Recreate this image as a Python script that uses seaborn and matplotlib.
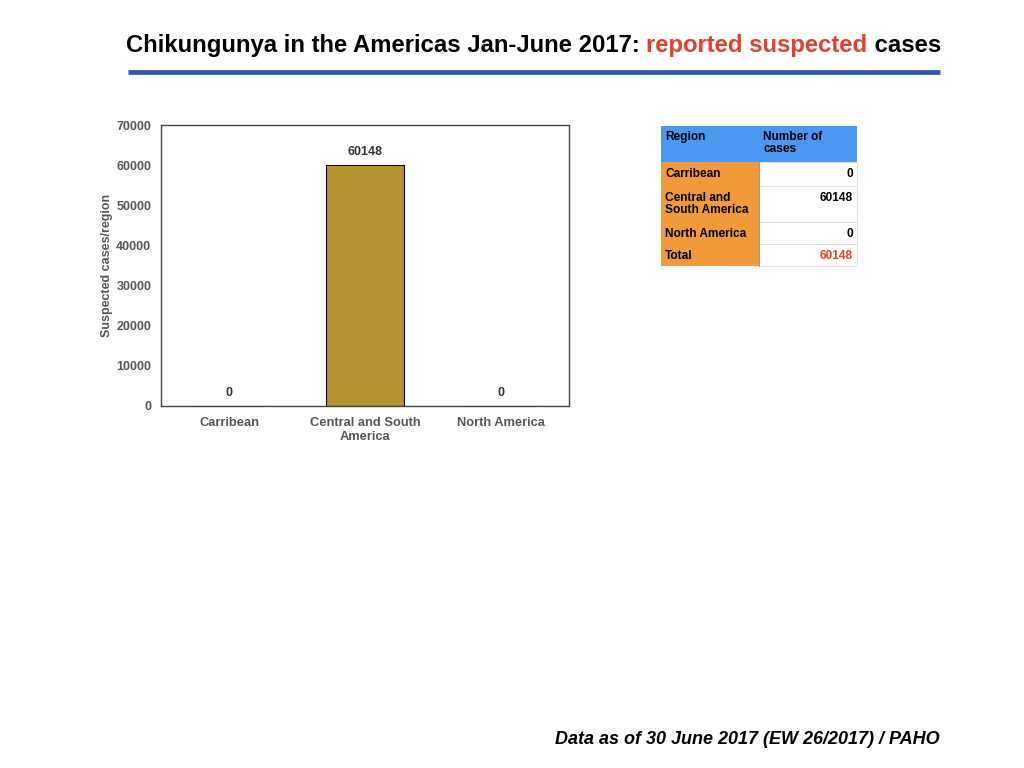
import matplotlib
matplotlib.use("Agg")
import matplotlib.pyplot as plt
import seaborn as sns
import pandas as pd
from matplotlib.patches import Rectangle

# data
regions = ["Carribean", "Central and South America", "North America"]
region_labels = ["Carribean", "Central and South\nAmerica", "North America"]
cases = [0, 60148, 0]
table_regions = ["Carribean", "Central and\nSouth America", "North America", "Total"]
table_values = ["0", "60148", "0", "60148"]

df = pd.DataFrame({"Region": regions, "Cases": cases})

sns.set_theme(style="white")
plt.rcParams["font.family"] = ["Liberation Sans", "DejaVu Sans"]
plt.rcParams["font.weight"] = "bold"

fig = plt.figure(figsize=(10.24, 7.68), dpi=100)

# title, drawn in three pieces so the middle part can be red
title_parts = [("Chikungunya in the Americas Jan-June 2017: ", "black"),
               ("reported suspected", "#e0412b"),
               (" cases", "black")]
renderer = fig.canvas.get_renderer()
x = 126 / 1024
for txt, col in title_parts:
    t = fig.text(x, 1 - 52 / 768, txt, fontsize=17.2, fontweight="bold",
                 color=col, va="baseline", ha="left")
    bb = t.get_window_extent(renderer=renderer)
    x += bb.width / 1024

# blue rule under the title
fig.add_artist(plt.Line2D([128 / 1024, 940 / 1024], [1 - 72 / 768, 1 - 72 / 768],
                          color="#2b5ba8", linewidth=3.4, solid_capstyle="butt"))

# bar chart
ax = fig.add_axes([161 / 1024, 1 - 406 / 768, 408 / 1024, 281 / 768])
sns.barplot(data=df, x="Region", y="Cases", ax=ax, color="#b5932f",
            saturation=1, width=0.57, edgecolor="black", linewidth=0.8)
ax.set_ylim(0, 70000)
ax.set_yticks(range(0, 70001, 10000))
ax.set_xticks(range(len(regions)))
ax.set_xticklabels(region_labels)
ax.tick_params(axis="y", labelsize=9, labelcolor="#555555", length=0, pad=7)
ax.tick_params(axis="x", labelsize=9.3, labelcolor="#555555", length=0, pad=8)
for lab in ax.get_xticklabels() + ax.get_yticklabels():
    lab.set_fontweight("bold")
    lab.set_linespacing(1.25)
ax.set_xlabel("")
ax.set_ylabel("Suspected cases/region", fontsize=9, color="#555555",
              fontweight="bold", labelpad=2)
for sp in ax.spines.values():
    sp.set_color("#444444")
    sp.set_linewidth(1.0)
for i, v in enumerate(cases):
    ax.annotate(f"{v}", (i, v), xytext=(0, 5), textcoords="offset points",
                ha="center", va="bottom", fontsize=9, fontweight="bold",
                color="#333333")

# summary table on the right
tab = fig.add_axes([0, 0, 1, 1])
tab.set_xlim(0, 1024)
tab.set_ylim(768, 0)
tab.axis("off")
x0, xm, x1 = 661, 759, 857
row_edges = [126, 162, 186, 222, 244, 266]
tab.add_patch(Rectangle((x0, row_edges[0]), x1 - x0, row_edges[1] - row_edges[0],
                        color="#4a98f2", lw=0))
tab.text(x0 + 4, row_edges[0] + 5, "Region", fontsize=8.6, fontweight="bold",
         va="top", ha="left", color="black")
tab.text(xm + 4, row_edges[0] + 5, "Number of\ncases", fontsize=8.6, fontweight="bold",
         va="top", ha="left", color="black", linespacing=1.05)
for i, (name, val) in enumerate(zip(table_regions, table_values)):
    top, bot = row_edges[i + 1], row_edges[i + 2]
    tab.add_patch(Rectangle((x0, top), xm - x0, bot - top, color="#f09a3c", lw=0))
    tab.add_patch(Rectangle((xm, top), x1 - xm, bot - top, facecolor="white",
                            edgecolor="#dddddd", lw=0.6))
    tab.text(x0 + 4, top + 6, name, fontsize=8.6, fontweight="bold", va="top",
             ha="left", color="black", linespacing=1.05)
    tab.text(x1 - 4, top + 6, val, fontsize=8.6, fontweight="bold", va="top",
             ha="right", color="#e0412b" if name == "Total" else "black")
tab.plot([xm, xm], [row_edges[1], row_edges[-1]], color="#999999", lw=0.8)

# footer
fig.text(940 / 1024, 1 - 740 / 768, "Data as of 30 June 2017 (EW 26/2017) / PAHO",
         fontsize=13, fontweight="bold", fontstyle="italic", ha="right", va="center",
         color="black")

fig.savefig("out.png", dpi=100)
